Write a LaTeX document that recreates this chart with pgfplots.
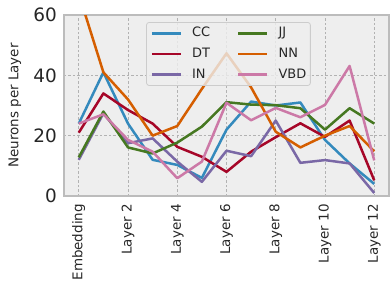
\documentclass[border=0pt]{standalone}
\usepackage{pgfplots}
\pgfplotsset{compat=1.18}
\usepackage{fontspec}
\setmainfont{DejaVu Sans}
\definecolor{cCC}{HTML}{348ABD}
\definecolor{cDT}{HTML}{A60628}
\definecolor{cIN}{HTML}{7A68A6}
\definecolor{cJJ}{HTML}{467821}
\definecolor{cNN}{HTML}{D55E00}
\definecolor{cVBD}{HTML}{CC79A7}
\definecolor{bgc}{HTML}{EEEEEE}
\definecolor{gridc}{HTML}{B2B2B2}
\definecolor{framec}{HTML}{BCBCBC}
\definecolor{legedge}{HTML}{CCCCCC}
\definecolor{txt}{HTML}{262626}
\begin{document}
\begin{tikzpicture}
\begin{axis}[
  name=ax,
  scale only axis, width=325bp, height=181bp,
  xmin=-0.6, xmax=12.6, ymin=0, ymax=60,
  xtick={0,2,4,6,8,10,12},
  xticklabels={Embedding,Layer 2,Layer 4,Layer 6,Layer 8,Layer 10,Layer 12},
  ytick={0,20,40,60},
  major tick length=0pt,
  axis background/.style={fill=bgc},
  axis line style={draw=framec, line width=1.2bp},
  grid=major,
  grid style={draw=gridc, dash pattern=on 2.5bp off 2bp, line width=0.6bp},
  /pgf/number format/assume math mode=true,
  yticklabel style={font=\fontsize{18.5}{20}\selectfont, anchor=east, inner xsep=7bp, inner ysep=0pt, text=txt},
  xticklabel style={font=\fontsize{13.5}{15}\selectfont, rotate=90, anchor=east, inner xsep=8bp, inner ysep=0pt, text=txt},
  ylabel={Neurons per Layer},
  ylabel style={font=\fontsize{13.5}{15}\selectfont, at={(rel axis cs:-0.1508,0.5)}, anchor=center, text=txt},
  legend columns=2,
  legend cell align=left,
  legend image code/.code={\draw[#1] (0bp,0bp) -- (29bp,0bp);},
  legend style={at={(0.506,0.961)}, anchor=north, fill=bgc, fill opacity=0.8, text opacity=1, draw opacity=1,
    draw=legedge, line width=0.8bp, rounded corners=2.5bp, font=\fontsize{13}{15}\selectfont, text=txt,
    inner xsep=4bp, inner ysep=4.4bp,
    nodes={inner sep=0pt, text height=10bp, text depth=3bp, anchor=west},
    /tikz/column sep=10bp, /tikz/row sep=7.6bp,
    /tikz/every even column/.append style={column sep=27bp}},
  every axis plot/.append style={line width=2.5bp, line join=round},
]
\addlegendimage{cCC, line width=2.5bp}\addlegendentry{CC}
\addlegendimage{cJJ, line width=2.5bp}\addlegendentry{JJ}
\addlegendimage{cDT, line width=2.5bp}\addlegendentry{DT}
\addlegendimage{cNN, line width=2.5bp}\addlegendentry{NN}
\addlegendimage{cIN, line width=2.5bp}\addlegendentry{IN}
\addlegendimage{cVBD, line width=2.5bp}\addlegendentry{VBD}
% CC
\addplot[cCC, forget plot] coordinates {(0,24) (1,41) (2,24) (3,12) (4,10.3) (5,6) (6,22) (7,31.3) (8,30) (9,31) (10,18.6) (11,10.8) (12,4)};
% DT
\addplot[cDT, forget plot] coordinates {(0,21) (1,34) (2,28.5) (3,24) (4,16.3) (5,13) (6,8) (7,14.7) (8,19.5) (9,24.1) (10,19.6) (11,25) (12,5.2)};
% IN
\addplot[cIN, forget plot] coordinates {(0,12) (1,27.4) (2,17.5) (3,19.1) (4,11.4) (5,4.7) (6,15) (7,13.2) (8,25) (9,11) (10,11.9) (11,10.8) (12,1)};
% JJ
\addplot[cJJ, forget plot] coordinates {(0,12.8) (1,28) (2,16.1) (3,14.1) (4,17.7) (5,23) (6,31.1) (7,30.3) (8,30.1) (9,29.1) (10,22) (11,29.1) (12,24)};
% NN
\addplot[cNN, forget plot] coordinates {(0,67) (1,41) (2,32) (3,20) (4,23.2) (5,35.5) (6,47.3) (7,36) (8,21.3) (9,16.1) (10,20) (11,23.2) (12,14.8)};
% VBD
\addplot[cVBD, forget plot] coordinates {(0,24) (1,27.1) (2,18.6) (3,14.7) (4,5.9) (5,11.4) (6,30.9) (7,25.1) (8,29.2) (9,26.1) (10,30.2) (11,43.1) (12,11.8)};
\end{axis}
\pgfresetboundingbox
\path ([shift={(-64bp,-88bp)}]ax.south west) rectangle ([shift={(1bp,15bp)}]ax.north east);
\end{tikzpicture}
\end{document}
